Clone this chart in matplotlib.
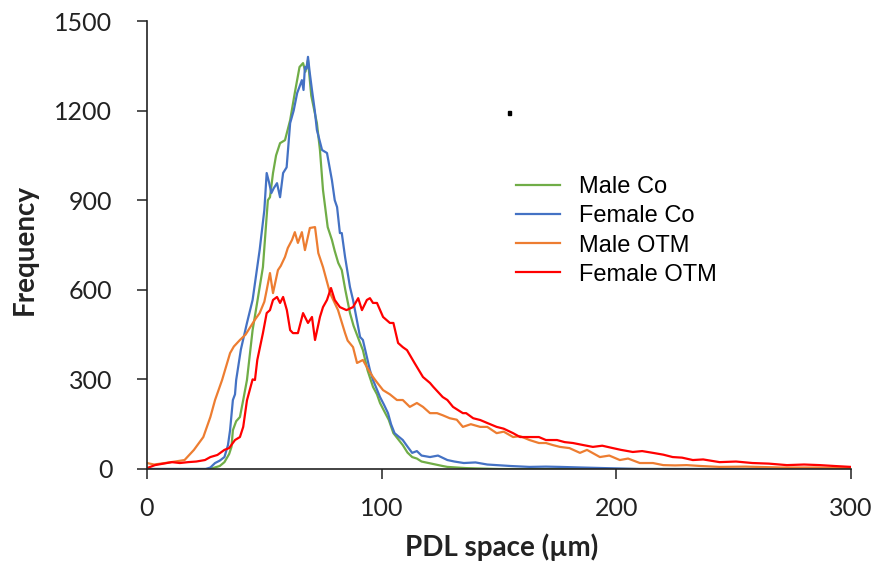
import matplotlib
matplotlib.use("Agg")
import matplotlib.pyplot as plt
from matplotlib.patches import Rectangle

# PDL space (um) vs frequency
male_co_x = [0, 10, 20, 26, 28, 31, 33, 35, 36, 36.6,
             38, 39.6, 41, 42.6, 45, 47, 49.4, 51.5, 52.4, 53.7,
             55, 56.7, 58.8, 61, 63, 65, 66.5, 67.5, 68.6, 70,
             72.4, 73.7, 75, 77, 78.8, 80, 81.5, 83, 84.5, 86.5,
             88, 90.8, 92, 94, 96.3, 98, 99.3, 101, 103, 105,
             107, 109, 111, 113, 115, 117, 120, 123, 126, 128,
             132, 136, 140, 150, 160, 180, 250, 300]
male_co_y = [0, 0, 0, 0, 3, 10, 23, 50, 74, 130,
             160, 174, 231, 298, 465, 560, 676, 900, 910, 991,
             1050, 1091, 1101, 1168, 1260, 1346, 1359, 1330, 1369, 1250,
             1158, 1068, 934, 810, 767, 730, 690, 666, 600, 522,
             480, 422, 398, 330, 275, 250, 221, 195, 165, 120,
             100, 80, 55, 40, 35, 25, 20, 15, 10, 7,
             5, 3, 2, 0, 0, 0, 0, 0]

female_co_x = [0, 10, 20, 25, 27, 29, 31, 33, 34.5, 35.4,
               36.6, 37.5, 38, 40, 42.6, 45, 48, 50, 51, 52,
               53, 54, 55.4, 56.7, 58, 59.5, 61, 62.5, 64, 65,
               66, 66.7, 67.3, 68, 68.6, 69.3, 70.3, 71.5, 72.4, 74.6,
               76.7, 78.8, 80, 81, 82.2, 83, 84.4, 86.5, 87.8, 90.8,
               92, 95, 96.3, 99.3, 101, 102.7, 104, 105.5, 107, 109,
               111, 113, 115, 117, 120.6, 124, 128, 131, 135, 140,
               145, 149, 155, 163, 170, 176, 185, 195, 210, 250,
               300]
female_co_y = [0, 0, 0, 0, 5, 20, 28, 40, 80, 130,
               231, 250, 298, 400, 489, 566, 733, 867, 991, 960,
               924, 940, 957, 910, 991, 1010, 1158, 1200, 1259, 1280,
               1302, 1269, 1346, 1340, 1380, 1330, 1269, 1200, 1135, 1068,
               1058, 967, 900, 877, 790, 790, 710, 609, 566, 442,
               432, 331, 298, 241, 215, 187, 150, 120, 110, 97,
               75, 54, 60, 45, 40, 45, 30, 25, 20, 22,
               15, 13, 10, 7, 8, 7, 5, 3, 0, 0,
               0]

male_otm_x = [0, 3, 7.7, 12, 16, 20, 24, 27, 29, 32,
              35.4, 37, 39.6, 42, 44, 46, 48, 50, 51, 52.4,
              53.7, 55.8, 57, 58.8, 60, 61.8, 63, 64.3, 66, 67.3,
              69.4, 71.6, 73, 75, 78, 81.4, 84.4, 85.5, 87.8, 89.5,
              92, 93.7, 96.3, 98, 100.6, 103.5, 106.5, 109, 112, 115,
              117.6, 120.6, 123.6, 126, 129, 132, 134.6, 138, 142, 145,
              149, 152, 156, 159, 163, 167, 170, 173, 176, 180,
              184.5, 187.5, 193, 197, 201.5, 205, 210, 215.6, 220, 225,
              230, 236, 244, 255, 270, 285, 300]
male_otm_y = [20, 15, 20, 25, 30, 64, 107, 174, 231, 298,
              388, 410, 432, 450, 475, 500, 522, 560, 599, 656,
              589, 666, 680, 710, 740, 767, 793, 757, 793, 733,
              807, 810, 723, 676, 589, 532, 455, 430, 408, 355,
              365, 341, 308, 290, 264, 250, 231, 231, 208, 221,
              208, 187, 187, 180, 170, 165, 141, 150, 141, 141,
              120, 125, 107, 110, 97, 87, 87, 80, 74, 70,
              54, 64, 40, 45, 30, 35, 20, 20, 13, 12,
              13, 10, 7, 8, 5, 5, 3]

female_otm_x = [0, 3.4, 7, 10.6, 14, 17.5, 21, 24.7, 27, 30,
                33, 35, 37.5, 39.6, 41, 42.6, 45, 46, 47, 49.4,
                51, 52.4, 53.7, 55.4, 56.7, 58, 59.6, 61, 62.2, 64.3,
                66.5, 68.6, 70.3, 71.6, 73.7, 75, 76.7, 78.4, 80, 82.2,
                85, 87.8, 90, 91.6, 93.7, 95, 96.3, 98, 100.6, 103.5,
                105, 107, 109, 110.8, 114, 117.6, 120.6, 122, 126, 128,
                130.4, 134.6, 136, 139, 142, 145, 149, 152, 156, 159,
                163, 167, 170, 174.7, 178, 181.5, 186, 190, 194, 198.5,
                202, 207, 211, 215.6, 220, 224, 228, 232.6, 237, 244,
                251, 258, 265, 272.7, 280, 286.7, 293, 300]
female_otm_y = [3, 13, 18, 23, 20, 23, 25, 30, 40, 47,
                64, 70, 97, 107, 141, 230, 300, 298, 365, 455,
                522, 532, 566, 576, 556, 576, 532, 465, 455, 455,
                522, 489, 509, 432, 509, 542, 566, 606, 566, 542,
                532, 542, 572, 532, 566, 572, 556, 556, 509, 489,
                489, 422, 408, 398, 355, 308, 288, 275, 241, 231,
                208, 187, 187, 170, 164, 154, 141, 135, 120, 107,
                107, 107, 97, 97, 90, 87, 80, 74, 78, 70,
                64, 57, 60, 54, 48, 40, 38, 30, 32, 23,
                25, 20, 18, 13, 15, 13, 10, 7]

labels = ["Male Co", "Female Co", "Male OTM", "Female OTM"]
colors = ["#70AD47", "#4472C4", "#ED7D31", "#FF0000"]
xticks = [0, 100, 200, 300]
yticks = [0, 300, 600, 900, 1200, 1500]

fig = plt.figure(figsize=(8.81, 5.77), dpi=100)
ax = fig.add_axes([147/881, 1-469/577, 704/881, 448/577])

series = [(male_co_x, male_co_y), (female_co_x, female_co_y),
          (male_otm_x, male_otm_y), (female_otm_x, female_otm_y)]
for (xs, ys), lab, c in zip(series, labels, colors):
    ax.plot(xs, ys, color=c, lw=1.6, label=lab)

ax.set_xlim(0, 300)
ax.set_ylim(0, 1500)
ax.set_xticks(xticks)
ax.set_yticks(yticks)
for s in ["top", "right"]:
    ax.spines[s].set_visible(False)
for s in ["left", "bottom"]:
    ax.spines[s].set_color("#222222")
    ax.spines[s].set_linewidth(1.2)

ax.tick_params(axis="both", direction="out", length=7, width=1.1, color="#222222",
               labelsize=18, labelcolor="#222222")
ax.tick_params(axis="y", pad=18)
ax.tick_params(axis="x", pad=13)
for lbl in ax.get_xticklabels() + ax.get_yticklabels():
    lbl.set_family("Lato")

ax.set_ylabel("Frequency", fontsize=20, fontweight="bold", family="Lato", color="#222222")
ax.set_xlabel("PDL space (\u00b5m)", fontsize=20, fontweight="bold", family="Lato", color="#222222")
ax.yaxis.set_label_coords(-0.155, 0.49)
ax.xaxis.set_label_coords(0.504, -0.143)

ax.legend(loc="center left", bbox_to_anchor=(516/881, 1-231/577),
          bbox_transform=fig.transFigure, frameon=False,
          prop={"family": "Liberation Sans", "size": 17},
          handlelength=1.85, handletextpad=0.8, labelspacing=0.3,
          borderpad=0, borderaxespad=0)

# small stray mark in the reference
fig.add_artist(Rectangle((508/881, 1-115/577), 3/881, 4/577,
                         transform=fig.transFigure, color="black"))

fig.savefig("out.png", dpi=100)
